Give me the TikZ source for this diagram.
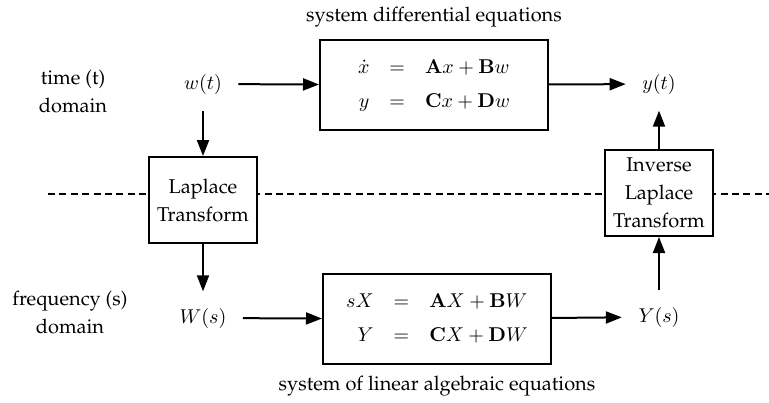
\documentclass[tikz,border=0pt]{standalone}
\usepackage[T1]{fontenc}
\usepackage{palatino}
\usetikzlibrary{positioning, arrows.meta, backgrounds}

\begin{document}
\begin{tikzpicture}[x=0.5pt,y=-0.5pt,node distance=2.5pt]
  \tikzset{blockbox/.style={draw,line width=1pt,fill=white,align=center,minimum width=54pt,minimum height=43pt,font=\fontsize{10}{14}\selectfont},
    eqbox/.style={blockbox,minimum width=114pt,minimum height=45pt},
    signal/.style={outer sep=5pt},
    sigline/.style={line width=1pt,-{Triangle[length=8pt,width=6pt]}},
    domainlabel/.style={align=center,font=\fontsize{10}{14}\selectfont}}
  \useasboundingbox (0,0) rectangle (769,402);
  % time / frequency split
  \coordinate (splitw) at (48,194);
  \coordinate (splite) at (769,194);
  \draw[line width=0.9pt,dash pattern=on 3.5pt off 2.2pt] (splitw) -- (splite);
  % time domain row
  \node[domainlabel] (tlabel) at (73,91) {time (t)\\domain};
  \node[signal] (wt) at (203,84) {$w(t)$};
  \node[eqbox] (sysa) at (434,85) {$\begin{array}{rcl}
      \dot{x} & = & \mathbf{A}x+\mathbf{B}w\\[3pt]
      y & = & \mathbf{C}x+\mathbf{D}w
    \end{array}$};
  \node[signal] (yt) at (659,84) {$y(t)$};
  \node[above=of sysa] (sysalabel) {system differential equations};
  % transforms
  \node[blockbox] (lap) at (203,200) {Laplace\\Transform};
  \node[blockbox] (ilap) at (659,193) {Inverse\\Laplace\\Transform};
  % frequency domain row
  \node[domainlabel] (slabel) at (70,312) {frequency (s)\\domain};
  \node[signal] (ws) at (203,318) {$W(s)$};
  \node[eqbox] (sysb) at (437,319) {$\begin{array}{rcl}
      sX & = & \mathbf{A}X+\mathbf{B}W\\[3pt]
      Y & = & \mathbf{C}X+\mathbf{D}W
    \end{array}$};
  \node[signal] (ys) at (659,317) {$Y(s)$};
  \node[below=2pt of sysb] (sysblabel) {system of linear algebraic equations};
  % signal flow
  \draw[sigline] (wt) -- (sysa);
  \draw[sigline] (sysa) -- (yt);
  \draw[sigline] (wt) -- (lap);
  \draw[sigline] (lap) -- (ws);
  \draw[sigline] (ws) -- (sysb);
  \draw[sigline] (sysb) -- (ys);
  \draw[sigline] (ys) -- (ilap);
  \draw[sigline] (ilap) -- (yt);
\end{tikzpicture}
\end{document}
